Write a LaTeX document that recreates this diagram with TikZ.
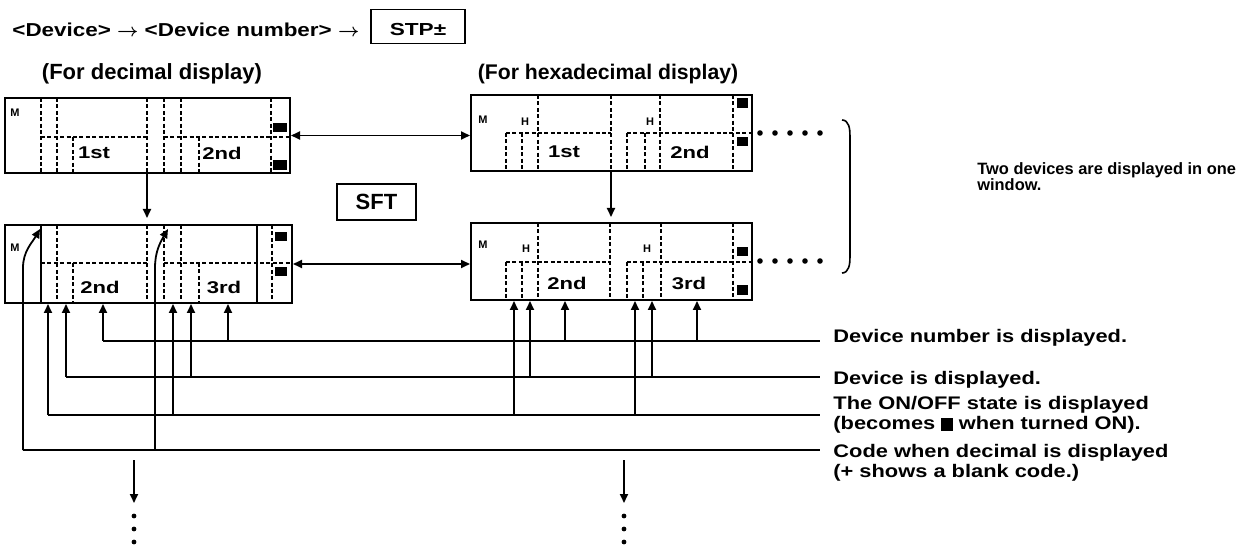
\documentclass[tikz,border=0pt]{standalone}
\usepackage{fontspec}
\setmainfont{Liberation Sans}
\newfontfamily\widefont[FakeStretch=1.2]{Liberation Sans}
\newfontfamily\widerfont[FakeStretch=1.3]{Liberation Sans}
\usetikzlibrary{arrows.meta,positioning}

\tikzset{
    arr/.style={line width=0.9pt, -{Triangle[length=4.5pt,width=4pt]}},
    dblarr/.style={line width=0.9pt, {Triangle[length=4.5pt,width=4pt]}-{Triangle[length=4.5pt,width=4pt]}},
    panel/.style={draw, line width=1pt, inner sep=0pt},
    dashline/.style={line width=0.7pt, dash pattern=on 2pt off 1.2pt},
    cell/.style={font=\widerfont\bfseries\fontsize{8.5}{10}\selectfont, inner sep=0pt},
    tiny/.style={font=\bfseries\fontsize{5.5}{6}\selectfont, inner sep=0pt},
    head/.style={font=\bfseries\fontsize{11}{13}\selectfont, inner sep=0pt},
    note/.style={font=\widefont\bfseries\fontsize{9.1}{10}\selectfont, align=left, inner sep=0pt, anchor=west},
    keybox/.style={draw, line width=0.9pt, inner sep=0pt, text height=8.6pt, text depth=0pt}
}

\begin{document}
\begin{tikzpicture}[x=0.5pt, y=-0.5pt]
    \useasboundingbox (0,0) rectangle (1243,545);

    % key sequence
    \node[font=\widefont\bfseries\fontsize{9.35}{11}\selectfont, inner sep=0pt, anchor=west] (seq) at (12,30) {<Device> {\boldmath$\rightarrow$} <Device number> {\boldmath$\rightarrow$}};
    \node[keybox, minimum width=47pt, minimum height=17pt, font=\widerfont\bfseries\fontsize{8.7}{10}\selectfont] (stp) at (418,26.5) {STP±};

    \node[head] (hdec) at (152,74) {(For decimal display)};
    \node[head, font=\bfseries\fontsize{10.6}{13}\selectfont] (hhex) at (608,74) {(For hexadecimal display)};

    % decimal windows
    \node[panel, minimum width=142.5pt, minimum height=37.5pt] (decA) at (147.5,135.5) {};
    \node[panel, minimum width=143.5pt, minimum height=39pt] (decB) at (148.5,264) {};

    \foreach \x in {41,57,147,164,181,271} \draw[dashline] (\x,98) -- (\x,173);
    \foreach \x in {73,199} \draw[dashline] (\x,137) -- (\x,173);
    \draw[dashline] (41,137) -- (147,137) (164,137) -- (290,137);
    \fill (273,123) rectangle (287,132);
    \fill (273,160) rectangle (287,170);

    \draw[line width=0.8pt] (41,225) -- (41,303) (257,225) -- (257,303);
    \foreach \x in {57,147,164,181,272} \draw[dashline] (\x,225) -- (\x,303);
    \foreach \x in {73,199} \draw[dashline] (\x,263) -- (\x,303);
    \draw[dashline] (41,263) -- (147,263) (164,263) -- (292,263);
    \fill (275,232) rectangle (287,241);
    \fill (275,267) rectangle (287,276);

    \node[tiny] (mA) at (15,113) {M};
    \node[cell] (firstA) at (94,153) {1st};
    \node[cell] (secondA) at (222,153) {2nd};
    \node[tiny] (mB) at (15,248) {M};
    \node[cell] (secondB) at (100,287) {2nd};
    \node[cell] (thirdB) at (224,287) {3rd};

    % hexadecimal windows
    \node[panel, minimum width=140.5pt, minimum height=38pt] (hexA) at (611.5,133) {};
    \node[panel, minimum width=140.5pt, minimum height=38.5pt] (hexB) at (611.5,261.5) {};

    \foreach \x in {538,611,660,733} \draw[dashline] (\x,95) -- (\x,171);
    \foreach \x in {506,522,627,645} \draw[dashline] (\x,133) -- (\x,171);
    \draw[dashline] (506,133) -- (611,133) (627,133) -- (752,133);
    \fill (737,98) rectangle (748,108);
    \fill (737,137) rectangle (748,146);

    \foreach \x in {538,610,661,733} \draw[dashline] (\x,223) -- (\x,300);
    \foreach \x in {506,522,627,643} \draw[dashline] (\x,262) -- (\x,300);
    \draw[dashline] (506,262) -- (610,262) (627,262) -- (752,262);
    \fill (737,247) rectangle (748,256);
    \fill (737,285) rectangle (748,295);

    \node[tiny] (mC) at (483,120) {M};
    \node[tiny] (hC1) at (525,122) {H};
    \node[tiny] (hC2) at (650,122) {H};
    \node[cell] (firstC) at (564,152) {1st};
    \node[cell] (secondC) at (690,152) {2nd};
    \node[tiny] (mD) at (483,245) {M};
    \node[tiny] (hD1) at (526,249) {H};
    \node[tiny] (hD2) at (647,249) {H};
    \node[cell] (secondD) at (567,283) {2nd};
    \node[cell] (thirdD) at (689,283) {3rd};

    \foreach \x in {760,775,790,805,820} {
        \fill (\x,133) circle (1.4pt);
        \fill (\x,261) circle (1.4pt);
    }

    \node[keybox, minimum width=39.5pt, minimum height=18pt, text height=7.9pt, font=\bfseries\fontsize{11}{13}\selectfont] (sft) at (376.5,202) {SFT};

    % switching arrows
    \coordinate (cl) at (147,0);
    \coordinate (cr) at (611,0);
    \draw[dblarr] (decA.east) -- (decA.east -| hexA.west);
    \draw[dblarr] (decB.east) -- (decB.east -| hexB.west);
    \draw[arr, shorten >=3pt] (decA.south -| cl) -- (decB.north -| cl);
    \draw[arr, shorten >=2.5pt] (hexA.south -| cr) -- (hexB.north -| cr);

    % bracket
    \draw[line width=0.8pt] (842,120) to[out=0,in=90] (850,136) -- (850,257) to[out=-90,in=0] (842,273);
    \node[anchor=west, inner sep=0pt, align=left, font=\bfseries\fontsize{8.2}{8}\selectfont] (two) at (977,177) {Two devices are displayed in one\\window.};

    % explanations
    \coordinate (knum) at (820,341);
    \coordinate (kdev) at (820,377);
    \coordinate (ksta) at (820,415);
    \coordinate (kcod) at (820,450);
    \node[note] (tnum) at (833,338) {Device number is displayed.};
    \node[note] (tdev) at (833,380) {Device is displayed.};
    \node[note] (tsta) at (833,415) {The ON/OFF state is displayed\\(becomes \rule[-0.05em]{0.62em}{0.68em} when turned ON).};
    \node[note] (tcod) at (833,463) {Code when decimal is displayed\\(+ shows a blank code.)};

    \draw[line width=0.9pt] (103,341) -- (knum);
    \foreach \x in {103,228} \draw[arr] (\x,341) -- (\x,341 |- decB.south);
    \foreach \x in {565,697} \draw[arr] (\x,341) -- (\x,341 |- hexB.south);

    \draw[line width=0.9pt] (66,377) -- (kdev);
    \foreach \x in {66,191} \draw[arr] (\x,377) -- (\x,377 |- decB.south);
    \foreach \x in {530,652} \draw[arr] (\x,377) -- (\x,377 |- hexB.south);

    \draw[line width=0.9pt] (48,415) -- (ksta);
    \foreach \x in {48,173} \draw[arr] (\x,415) -- (\x,415 |- decB.south);
    \foreach \x in {514,635} \draw[arr] (\x,415) -- (\x,415 |- hexB.south);

    \draw[line width=0.9pt] (23,450) -- (kcod);
    \draw[arr] (23,450) -- (23,268) to[out=90,in=240] (40,229);
    \draw[arr] (155,450) -- (155,268) to[out=90,in=240] (168,229);

    % continuation
    \coordinate (dl) at (134,460);
    \coordinate (dr) at (624,460);
    \draw[arr] (dl) -- ++(0,43);
    \draw[arr] (dr) -- ++(0,43);
    \foreach \y in {516,529,542} {
        \fill (134,\y) circle (1.2pt);
        \fill (624,\y) circle (1.2pt);
    }
\end{tikzpicture}
\end{document}
